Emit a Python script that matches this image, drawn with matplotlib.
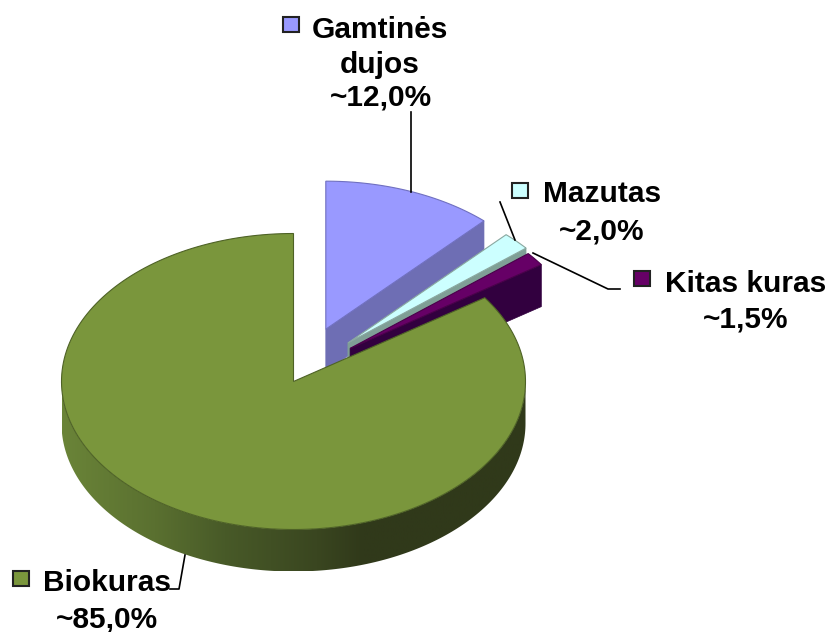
import numpy as np
import matplotlib
matplotlib.use("Agg")
import matplotlib.pyplot as plt
from matplotlib.colors import LinearSegmentedColormap
from matplotlib.patches import Polygon, Rectangle

names = ["Gamtinės\ndujos", "Mazutas", "Kitas kuras", "Biokuras"]
values = [12.0, 2.0, 1.5, 85.0]

# style and layout per slice (pixels of the 831x632 picture)
top_colors = ["#9999ff", "#ccffff", "#660066", "#7a963c"]
wall_colors = ["#6e6eb4", "#7f9f96", "#32003f", "#5a6e2c"]
edge_colors = ["#7070c0", "#8aa8a0", "#4a004a", "#4e6226"]
explode_x = [0.38, 0.323, 0.306, 0.0]
explode_y = [0.38, 0.379, 0.37, 0.0]
key_boxes = [(283, 17), (512, 183), (634, 271), (13, 571)]
name_pos = [(380, 38), (602, 202), (746, 292), (107, 591)]
pct_base = [105, 239, 328, 627]
leaders = [
    [(411, 112), (411, 192)],
    [(500, 202), (515, 240)],
    [(533, 253), (608, 289), (620, 289)],
    [(185, 555), (179, 589), (170, 589)],
]

CX, CY = 293.5, 381.5
RX, RY = 232, 148
DEPTH = 42
START = 90.0
FS = 21.5

plt.rcParams["font.family"] = ["Liberation Sans", "DejaVu Sans"]

fig = plt.figure(figsize=(8.31, 6.32), dpi=100, facecolor="white")
ax = fig.add_axes([0, 0, 1, 1])


def rim(cx, cy, a0, a1, n=200):
    t = np.radians(np.linspace(a0, a1, n))
    return np.column_stack([cx + RX * np.cos(t), cy - RY * np.sin(t)])


# slices go clockwise from 12 o'clock
sweep = np.array(values) / sum(values) * 360
ang = START
for i, sw in enumerate(sweep):
    a0, a1 = ang, ang - sw
    ang = a1
    mid = np.radians((a0 + a1) / 2)
    cx = CX + explode_x[i] * RX * np.cos(mid)
    cy = CY - explode_y[i] * RY * np.sin(mid)
    arc = rim(cx, cy, a0, a1)

    # wall along the cut on the clockwise end (only the exploded ones show it)
    if explode_x[i] > 0:
        end = arc[-1]
        wall = [(cx, cy), end, (end[0], end[1] + DEPTH), (cx, cy + DEPTH)]
        ax.add_patch(Polygon(wall, fc=wall_colors[i], ec=wall_colors[i], lw=0.5, zorder=i + 1))
    else:
        # front rim of the big slice, shaded left to right
        front = rim(cx, cy, -180, 0)
        low = front + [0, DEPTH]
        clip = Polygon(np.vstack([front, low[::-1]]), fc="none", ec="none", zorder=i + 1)
        ax.add_patch(clip)
        cmap = LinearSegmentedColormap.from_list(
            "rim", [(0, "#6a8438"), (0.2, "#5a7030"), (0.35, "#485a28"),
                    (0.55, "#3a4620"), (0.65, "#30391a"), (1, "#30391a")])
        im = ax.imshow(np.linspace(0, 1, 256)[None, :], cmap=cmap, aspect="auto",
                       extent=(cx - RX, cx + RX, cy + RY + DEPTH, cy - RY), zorder=i + 1)
        im.set_clip_path(clip)

    top = np.vstack([[(cx, cy)], arc])
    ax.add_patch(Polygon(top, closed=True, fc=top_colors[i], ec=edge_colors[i], lw=0.8, zorder=i + 1.5))

# labels
for i, name in enumerate(names):
    x, y = name_pos[i]
    lines = name.split("\n")
    for k, line in enumerate(lines):
        ax.text(x, y + 35 * k, line, ha="center", va="baseline", fontsize=FS,
                fontweight="bold", color="black", zorder=10)
    pct = f"~{values[i]:.1f}%".replace(".", ",")
    ax.text(x + (1 if i == 0 else 0), pct_base[i], pct, ha="center", va="baseline", fontsize=FS,
            fontweight="bold", color="black", zorder=10)
    kx, ky = key_boxes[i]
    ax.add_patch(Rectangle((kx, ky), 16, 15, fc=top_colors[i], ec="#222222", lw=1.5, zorder=10))
    lx, ly = zip(*leaders[i])
    ax.plot(lx, ly, color="black", lw=1.2, zorder=9)

ax.set_xlim(0, 831)
ax.set_ylim(632, 0)
ax.axis("off")

fig.savefig("out.png", dpi=100, facecolor="white")
